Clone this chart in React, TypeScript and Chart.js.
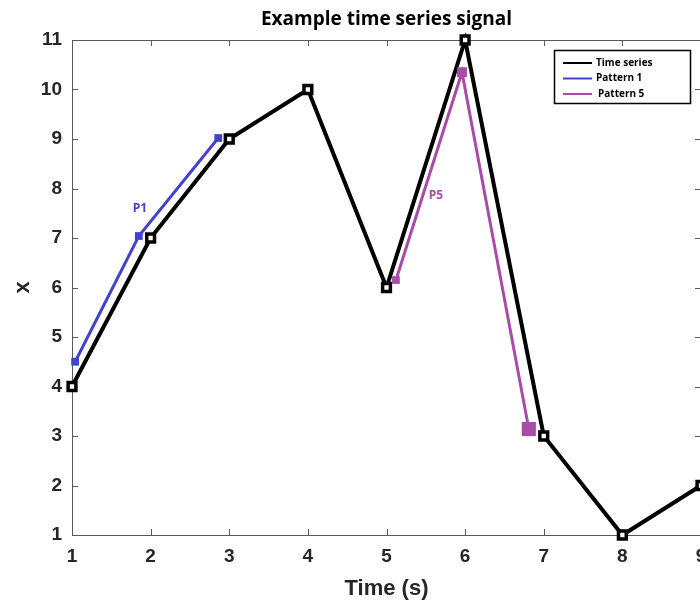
import React, { useEffect, useRef } from "react";
import { Chart, registerables } from "chart.js";

Chart.register(...registerables);

const timeX = [1, 2, 3, 4, 5, 6, 7, 8, 9];
const timeSeries = [4, 7, 9, 10, 6, 11, 3, 1, 2];
const pattern1X = [1.04, 1.85, 2.86];
const pattern1Y = [4.5, 7.04, 9.02];
const pattern5X = [5.12, 5.96, 6.81];
const pattern5Y = [6.15, 10.35, 3.14];
const xTicks = [1, 2, 3, 4, 5, 6, 7, 8, 9];
const yTicks = [1, 2, 3, 4, 5, 6, 7, 8, 9, 10, 11];
const patternLabels = ["P1", "P5"];
const patternLabelX = [1.865, 5.63];
const patternLabelY = [7.59, 7.85];

const BLUE = "#4242d0";
const PURPLE = "#a84ca8";
const AXIS = "#5a5a5a";
const TEXT = "#262626";
const FONT = "'Liberation Sans', Arial, sans-serif";

const frame = {
  id: "frame",
  beforeDatasetsDraw(chart: any) {
    const { ctx, chartArea: a, scales } = chart;
    ctx.save();
    ctx.strokeStyle = AXIS;
    ctx.lineWidth = 1;
    ctx.strokeRect(a.left + 0.5, a.top + 0.5, a.right - a.left, a.bottom - a.top);
    const tl = 6;
    ctx.beginPath();
    xTicks.forEach((v) => {
      const px = Math.round(scales.x.getPixelForValue(v)) + 0.5;
      ctx.moveTo(px, a.bottom);
      ctx.lineTo(px, a.bottom - tl);
      ctx.moveTo(px, a.top);
      ctx.lineTo(px, a.top + tl);
    });
    yTicks.forEach((v) => {
      const py = Math.round(scales.y.getPixelForValue(v)) + 0.5;
      ctx.moveTo(a.left, py);
      ctx.lineTo(a.left + tl, py);
      ctx.moveTo(a.right, py);
      ctx.lineTo(a.right - tl, py);
    });
    ctx.stroke();
    ctx.restore();
  },
  afterDraw(chart: any) {
    const { ctx, chartArea: a, scales } = chart;
    ctx.save();
    // title
    ctx.fillStyle = "#000";
    ctx.font = "bold 19px 'Open Sans', sans-serif";
    ctx.textAlign = "center";
    ctx.textBaseline = "middle";
    ctx.fillText("Example time series signal", (a.left + a.right) / 2, 20);
    // pattern labels
    ctx.font = "bold 12px 'Open Sans', sans-serif";
    patternLabels.forEach((t, i) => {
      ctx.fillStyle = i === 0 ? BLUE : PURPLE;
      ctx.fillText(t, scales.x.getPixelForValue(patternLabelX[i]), scales.y.getPixelForValue(patternLabelY[i]));
    });
    // legend
    const lx = 554, ly = 50, lw = 136, lh = 53;
    ctx.fillStyle = "#fff";
    ctx.fillRect(lx, ly, lw, lh);
    ctx.strokeStyle = "#000";
    ctx.lineWidth = 1.5;
    ctx.strokeRect(lx + 0.5, ly + 0.5, lw, lh);
    const items = chart.data.datasets.slice().sort((p: any, q: any) => p.legendIndex - q.legendIndex);
    ctx.font = "bold 10px 'Open Sans', sans-serif";
    ctx.textAlign = "left";
    items.forEach((d: any, i: number) => {
      const y = ly + 13 + i * 15.5;
      ctx.strokeStyle = d.borderColor;
      ctx.lineWidth = 2;
      ctx.beginPath();
      ctx.moveTo(563, y);
      ctx.lineTo(592, y);
      ctx.stroke();
      ctx.fillStyle = "#000";
      ctx.fillText(d.label, 596 + (i === 2 ? 2 : 0), y);
    });
    ctx.restore();
  },
};

export default function App() {
  const ref = useRef<HTMLCanvasElement>(null);
  useEffect(() => {
    const chart = new Chart(ref.current as HTMLCanvasElement, {
      type: "line",
      data: {
        datasets: [
          {
            label: "Time series",
            legendIndex: 0,
            order: 2,
            data: timeX.map((x, i) => ({ x, y: timeSeries[i] })),
            borderColor: "#000",
            borderWidth: 4,
            pointStyle: "rect",
            pointRadius: 5.5,
            pointBorderWidth: 3.5,
            pointBackgroundColor: "#fff",
            pointBorderColor: "#000",
            clip: false,
          } as any,
          {
            label: "Pattern 1",
            legendIndex: 1,
            order: 1,
            data: pattern1X.map((x, i) => ({ x, y: pattern1Y[i] })),
            borderColor: BLUE,
            borderWidth: 3,
            pointStyle: "rect",
            pointRadius: 5.5,
            pointBorderWidth: 0,
            pointBackgroundColor: BLUE,
            clip: false,
          } as any,
          {
            label: "Pattern 5",
            legendIndex: 2,
            order: 1,
            data: pattern5X.map((x, i) => ({ x, y: pattern5Y[i] })),
            borderColor: PURPLE,
            borderWidth: 3,
            pointStyle: "rect",
            pointRadius: [5.5, 7, 10],
            pointBorderWidth: 0,
            pointBackgroundColor: PURPLE,
            clip: false,
          } as any,
        ],
      },
      options: {
        animation: false,
        responsive: false,
        devicePixelRatio: 1,
        layout: { padding: { top: 40, right: 19, left: 0, bottom: 0 } },
        plugins: { legend: { display: false }, title: { display: false }, tooltip: { enabled: false } },
        scales: {
          x: {
            type: "linear",
            min: 1,
            max: 9,
            grid: { display: false, drawTicks: false },
            border: { display: false },
            afterBuildTicks: (s: any) => { s.ticks = xTicks.map((v) => ({ value: v })); },
            afterFit: (s: any) => { s.height = 65; },
            ticks: { color: TEXT, font: { family: FONT, size: 19, weight: "bold" }, padding: 10, maxRotation: 0 },
            title: { display: true, text: "Time (s)", color: TEXT, font: { family: FONT, size: 22, weight: "bold" }, padding: { top: 0, bottom: -2 } },
          },
          y: {
            type: "linear",
            min: 1,
            max: 11,
            grid: { display: false, drawTicks: false },
            border: { display: false },
            afterBuildTicks: (s: any) => { s.ticks = yTicks.map((v) => ({ value: v })); },
            afterFit: (s: any) => { s.width = 72; },
            ticks: { color: TEXT, font: { family: FONT, size: 19, weight: "bold" }, padding: 10 },
            title: { display: true, text: "x", color: TEXT, font: { family: FONT, size: 22, weight: "bold" }, padding: { top: 10, bottom: 0 } },
          },
        },
      } as any,
      plugins: [frame],
    });
    return () => chart.destroy();
  }, []);
  return (
    <div style={{ position: "fixed", left: 0, top: 0, width: 700, height: 600, overflow: "hidden", background: "#fff" }}>
      <canvas ref={ref} width={720} height={600} style={{ display: "block", width: 720, height: 600 }} />
    </div>
  );
}
